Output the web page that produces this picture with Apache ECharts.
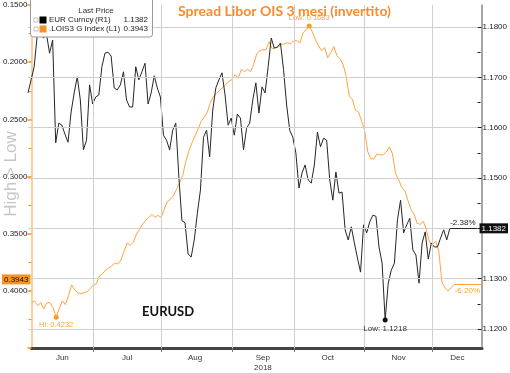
<!DOCTYPE html>
<html><head><meta charset="utf-8">
<script src="https://cdn.jsdelivr.net/npm/echarts@6/dist/echarts.min.js"></script>
<style>html,body{margin:0;padding:0;background:#fff}#c{width:510px;height:373px}</style>
</head><body><div id="c"></div>
<script>
// Trading-day categories (weekdays) from 2018-06-04 to 2018-12-25
const firstDay = '2018-06-04';
const lastDay = '2018-12-25';
const monthNames = ['Jan','Feb','Mar','Apr','May','Jun','Jul','Aug','Sep','Oct','Nov','Dec'];
const yearLabel = '2018';

// EUR Curncy (right axis), one value per trading day from 2018-06-04
const eurValues = [1.1669,1.1695,1.1721,1.1784,1.1818,1.1778,1.1786,1.1748,1.1774,1.1570,
 1.1609,1.1605,1.1587,1.1571,1.1631,1.1669,1.1701,1.1655,1.1556,1.1575,
 1.1685,1.1647,1.1661,1.1665,1.1721,1.1748,1.1750,1.1742,1.1679,1.1675,
 1.1685,1.1711,1.1655,1.1641,1.1641,1.1721,1.1695,1.1711,1.1728,1.1647,
 1.1669,1.1703,1.1679,1.1661,1.1585,1.1575,1.1556,1.1595,1.1609,1.1502,
 1.1415,1.1411,1.1349,1.1343,1.1377,1.1430,1.1476,1.1581,1.1595,1.1542,
 1.1635,1.1679,1.1695,1.1709,1.1665,1.1605,1.1619,1.1585,1.1627,1.1619,
 1.1556,1.1599,1.1609,1.1655,1.1689,1.1629,1.1681,1.1669,1.1721,1.1778,
 1.1758,1.1760,1.1768,1.1715,1.1645,1.1595,1.1581,1.1550,1.1480,1.1510,
 1.1526,1.1496,1.1490,1.1526,1.1591,1.1562,1.1579,1.1575,1.1496,1.1456,
 1.1512,1.1470,1.1472,1.1397,1.1377,1.1403,1.1371,1.1341,1.1313,1.1407,
 1.1391,1.1413,1.1426,1.1424,1.1363,1.1331,1.1218,1.1291,1.1317,1.1331,
 1.1417,1.1456,1.1391,1.1407,1.1420,1.1357,1.1347,1.1291,1.1371,1.1393,
 1.1339,1.1371,1.1363,1.1363,1.1381,1.1397,1.1377,1.1400];

// .LOIS3 G Index (left axis, inverted)
const loisValues = [0.4104,0.4087,0.4130,0.4104,0.4156,0.4104,0.4104,0.4147,0.4232,0.4156,
 0.4087,0.4121,0.4043,0.3948,0.3991,0.4017,0.4026,0.4017,0.4009,0.3982,
 0.3948,0.3939,0.3870,0.3852,0.3818,0.3800,0.3783,0.3757,0.3766,0.3731,
 0.3653,0.3583,0.3601,0.3575,0.3505,0.3462,0.3418,0.3384,0.3358,0.3332,
 0.3358,0.3340,0.3358,0.3288,0.3219,0.3201,0.3167,0.3115,0.3054,0.2993,
 0.2871,0.2776,0.2707,0.2646,0.2585,0.2516,0.2481,0.2437,0.2351,0.2299,
 0.2273,0.2246,0.2220,0.2194,0.2168,0.2151,0.2108,0.2142,0.2064,0.2082,
 0.2064,0.2082,0.2021,0.1925,0.1899,0.1891,0.1891,0.1821,0.1882,0.1873,
 0.1865,0.1847,0.1839,0.1830,0.1839,0.1812,0.1812,0.1830,0.1743,0.1717,
 0.1683,0.1734,0.1804,0.1856,0.1899,0.1873,0.1960,0.1917,0.1865,0.1943,
 0.1969,0.2021,0.2125,0.2299,0.2325,0.2420,0.2437,0.2516,0.2602,0.2785,
 0.2845,0.2845,0.2802,0.2811,0.2811,0.2785,0.2741,0.2802,0.2976,0.3028,
 0.3097,0.3123,0.3210,0.3288,0.3332,0.3410,0.3418,0.3392,0.3470,0.3575,
 0.3592,0.3566,0.3653,0.3922,0.3974,0.4000,0.3974,0.3943];

const eurLast = 1.1382, loisLast = 0.3943;
const eurChange = '-2.38%', loisChange = '-6.20%';
const eurName = 'EUR Curncy', loisName = '.LOIS3 G Index';

const leftTicks = [0.15, 0.45, 0.05];
const rightTicks = [1.12, 1.18, 0.01];

// build categories
const cats = [];
{
  let t = Date.parse(firstDay + 'T00:00:00Z');
  const end = Date.parse(lastDay + 'T00:00:00Z');
  while (t <= end) {
    const d = new Date(t);
    const wd = d.getUTCDay();
    if (wd > 0 && wd < 6) cats.push(d.toISOString().slice(0, 10));
    t += 86400000;
  }
}
const monthOf = s => +s.slice(5, 7) - 1;
const monthStarts = new Set();
const monthMid = {};
{
  let start = 0;
  for (let i = 1; i <= cats.length; i++) {
    if (i === cats.length || monthOf(cats[i]) !== monthOf(cats[i - 1])) {
      monthMid[Math.round((start + i - 1) / 2)] = monthOf(cats[start]);
      if (i < cats.length) monthStarts.add(i);
      start = i;
    }
  }
}
const lastIdx = eurValues.length - 1;
const ORANGE = '#ffa33d';
const FONT = '"Liberation Sans", Arial, sans-serif';
const HIDDEN = 'rgba(0,0,0,0)';
const GRIDSTYLE = {color: '#cfcfcf', type: 'solid', width: 1};

// grid lines from axis ticks
const hGrid = [];
for (let k = 0; rightTicks[0] + k * rightTicks[2] <= rightTicks[1] + 1e-9; k++) {
  hGrid.push({yAxis: +(rightTicks[0] + k * rightTicks[2]).toFixed(4), lineStyle: GRIDSTYLE, label: {show: false}});
}
const vGrid = [...monthStarts].map(i => ({xAxis: cats[i], lineStyle: GRIDSTYLE, label: {show: false}}));

const chart = echarts.init(document.getElementById('c'), null, {renderer: 'canvas'});
chart.setOption({
  animation: false,
  backgroundColor: '#fff',
  grid: [
    {left: 28, right: 28, top: 5, height: 345.6},
    {left: 28, right: 28, top: 27, height: 302}
  ],
  xAxis: [
    {
      gridIndex: 0, type: 'category', data: cats, boundaryGap: false,
      axisLine: {onZero: false, lineStyle: {color: '#454545', width: 3}},
      axisTick: {show: true, length: 4, interval: (i) => monthStarts.has(i), lineStyle: {color: '#777'}},
      axisLabel: {
        interval: (i) => monthMid[i] !== undefined, fontSize: 8, fontFamily: FONT, color: '#333', margin: 5, lineHeight: 10,
        formatter: (v, i) => { const m = monthMid[i]; if (m === undefined) return ''; return m === 8 ? monthNames[m] + '\n' + yearLabel : monthNames[m]; }
      },
      splitLine: {show: false}
    },
    {gridIndex: 1, type: 'category', data: cats, boundaryGap: false, show: false}
  ],
  yAxis: [
    {
      gridIndex: 0, type: 'value', position: 'left', inverse: true,
      min: leftTicks[0], max: leftTicks[1], interval: leftTicks[2],
      axisLine: {show: true, onZero: false, lineStyle: {color: '#fbcf9f', width: 2}},
      axisTick: {show: true, length: 4, lineStyle: {color: '#f7931e', width: 1.5}},
      minorTick: {show: true, splitNumber: 2, length: 3, lineStyle: {color: '#f7931e'}},
      axisLabel: {fontSize: 8, fontFamily: FONT, color: '#222', margin: 4, formatter: v => v > 0.44 ? '' : v.toFixed(4)},
      splitLine: {show: false}
    },
    {
      gridIndex: 0, type: 'value', position: 'right', min: 0, max: 1,
      axisLine: {show: true, onZero: false, lineStyle: {color: '#8a8a8a', width: 1.5}},
      axisTick: {show: false}, axisLabel: {show: false}, splitLine: {show: false}
    },
    {
      gridIndex: 1, type: 'value', position: 'right',
      min: rightTicks[0], max: rightTicks[1], interval: rightTicks[2],
      axisLine: {show: false},
      axisTick: {show: true, length: 4, lineStyle: {color: '#222'}},
      minorTick: {show: true, splitNumber: 2, length: 3, lineStyle: {color: '#222'}},
      axisLabel: {fontSize: 8, fontFamily: FONT, color: '#222', margin: 5, formatter: v => v.toFixed(4)},
      splitLine: {show: false}
    }
  ],
  series: [
    {
      name: loisName, type: 'line', xAxisIndex: 0, yAxisIndex: 0, data: loisValues,
      symbol: 'none', lineStyle: {color: ORANGE, width: 1}, itemStyle: {color: ORANGE}, z: 2,
      markPoint: {
        silent: true, symbol: 'circle', symbolSize: 5, itemStyle: {color: '#ff9a2a'},
        label: {fontSize: 7.5, fontFamily: FONT, color: ORANGE, distance: 1},
        data: [
          {type: 'min', label: {position: 'top', formatter: p => 'Low: ' + p.value.toFixed(4)}},
          {type: 'max', label: {position: 'bottom', formatter: p => 'Hi: ' + p.value.toFixed(4)}}
        ]
      },
      markLine: {
        silent: true, symbol: ['none', 'none'], lineStyle: {color: ORANGE, type: 'solid', width: 1},
        data: vGrid.concat([
          [{coord: [cats[lastIdx], loisValues[lastIdx]], label: {show: true, position: 'insideEndBottom', formatter: loisChange, fontSize: 8, fontFamily: FONT, color: ORANGE, distance: 2}},
           {coord: [cats[cats.length - 1], loisValues[lastIdx]]}],
          {yAxis: loisLast, lineStyle: {color: HIDDEN, width: 0},
           label: {show: true, position: 'start', distance: 1, formatter: loisLast.toFixed(4), fontSize: 8, fontFamily: FONT, color: '#111', backgroundColor: '#f7931e', padding: [1, 2, 1, 2]}}
        ])
      }
    },
    {
      name: eurName, type: 'line', xAxisIndex: 1, yAxisIndex: 2, data: eurValues, clip: false,
      symbol: 'none', lineStyle: {color: '#262626', width: 1}, itemStyle: {color: '#262626'}, z: 3,
      markPoint: {
        silent: true, symbol: 'circle', symbolSize: 5, itemStyle: {color: '#111'},
        label: {fontSize: 8, fontFamily: FONT, color: '#333', distance: 2},
        data: [{type: 'min', label: {position: 'bottom', formatter: p => 'Low: ' + p.value.toFixed(4)}}]
      },
      markLine: {
        silent: true, symbol: ['none', 'none'], lineStyle: {color: '#262626', type: 'solid', width: 1},
        data: hGrid.concat([
          [{coord: [cats[lastIdx], eurValues[lastIdx]], label: {show: true, position: 'insideEndTop', formatter: eurChange, fontSize: 8, fontFamily: FONT, color: '#222', distance: 2}},
           {coord: [cats[cats.length - 1], eurValues[lastIdx]]}],
          {yAxis: eurLast, lineStyle: {color: HIDDEN, width: 0},
           label: {show: true, position: 'end', distance: 2, formatter: eurLast.toFixed(4), fontSize: 8, fontFamily: FONT, color: '#fff', backgroundColor: '#111', padding: [1, 2, 1, 2]}}
        ])
      }
    }
  ],
  graphic: [
    {type: 'text', x: 284.5, y: 11, z: 60, style: {text: 'Spread Libor OIS 3 mesi (invertito)', font: 'bold 14px Lato', fill: '#fa8b2a', align: 'center', verticalAlign: 'middle'}},
    {type: 'text', x: 142, y: 312, z: 60, style: {text: 'EURUSD', font: 'bold 13px Lato', fill: '#111', verticalAlign: 'middle'}},
    {type: 'text', x: 11, y: 174, rotation: Math.PI / 2, z: 60, style: {text: 'High > Low', font: '17px "Liberation Sans"', fill: '#c6c6c6', align: 'center', verticalAlign: 'middle'}},
    {type: 'rect', z: 50, shape: {x: 30.5, y: -4, width: 122, height: 41, r: 3}, style: {fill: '#fff', stroke: '#9a9a9a', lineWidth: 1}},
    {type: 'text', z: 51, x: 96, y: 11, style: {text: 'Last Price', font: '8px "Liberation Sans"', fill: '#333', align: 'center', verticalAlign: 'middle'}},
    {type: 'rect', z: 51, shape: {x: 34, y: 18, width: 4, height: 4}, style: {fill: '#fff', stroke: '#999', lineWidth: 0.6}},
    {type: 'rect', z: 51, shape: {x: 39.5, y: 16.5, width: 7, height: 7}, style: {fill: '#000'}},
    {type: 'text', z: 51, x: 49, y: 20, style: {text: eurName, font: '8px "Liberation Sans"', fill: '#222', verticalAlign: 'middle'}},
    {type: 'text', z: 51, x: 95, y: 20, style: {text: '(R1)', font: '8px "Liberation Sans"', fill: '#222', verticalAlign: 'middle'}},
    {type: 'text', z: 51, x: 148, y: 20, style: {text: eurLast.toFixed(4), font: '8px "Liberation Sans"', fill: '#223', align: 'right', verticalAlign: 'middle'}},
    {type: 'rect', z: 51, shape: {x: 34, y: 27, width: 4, height: 4}, style: {fill: '#fff', stroke: '#999', lineWidth: 0.6}},
    {type: 'rect', z: 51, shape: {x: 39.5, y: 25.5, width: 7, height: 7}, style: {fill: '#f7931e'}},
    {type: 'text', z: 51, x: 49, y: 29, style: {text: loisName, font: '8px "Liberation Sans"', fill: '#222', verticalAlign: 'middle'}},
    {type: 'text', z: 51, x: 106, y: 29, style: {text: '(L1)', font: '8px "Liberation Sans"', fill: '#222', verticalAlign: 'middle'}},
    {type: 'text', z: 51, x: 148, y: 29, style: {text: loisLast.toFixed(4), font: '8px "Liberation Sans"', fill: '#222', align: 'right', verticalAlign: 'middle'}}
  ]
});
</script></body></html>
